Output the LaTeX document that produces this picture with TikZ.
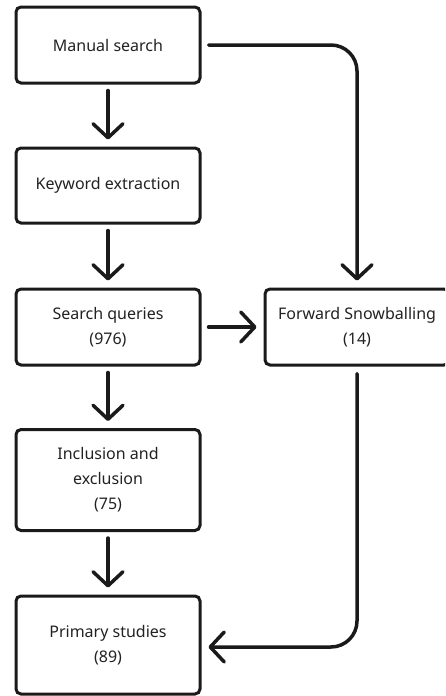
\documentclass[tikz,border=0pt]{standalone}
\usepackage{fontspec}
\setmainfont{Noto Sans}
\usetikzlibrary{arrows.meta}
\definecolor{ink}{HTML}{1A1A1A}
\definecolor{txt}{HTML}{222222}
\tikzset{
  box/.style={draw=ink, line width=3pt, rounded corners=5pt, minimum width=184pt,
    text=txt, align=center, font=\fontsize{16}{25}\selectfont, inner sep=0pt},
  conn/.style={draw=ink, line width=3.5pt, line cap=round, line join=round,
    -{Straight Barb[length=14pt,width=30pt,line cap=round,line join=round]}}
}
\begin{document}
\begin{tikzpicture}[x=1pt,y=-1pt]
\useasboundingbox (0,0) rectangle (445,696);
\clip (0,0) rectangle (445,696);
\node[box, minimum height=76pt] (m) at (108,45) {Manual search};
\node[box, minimum height=75pt] (k) at (108,185.5) {Keyword extraction};
\node[box, minimum height=76pt] (s) at (108,327) {Search queries\\(976)};
\node[box, minimum height=101pt] (i) at (108,480) {Inclusion and\\exclusion\\(75)};
\node[box, minimum height=98pt] (p) at (108,645) {Primary studies\\(\textbf{89})};
\node[box, minimum height=76pt] (f) at (357,327) {Forward Snowballing\\(14)};
\draw[conn] ([yshift=-6pt]m.south) -- ([yshift=7pt]k.north);
\draw[conn] ([yshift=-6pt]k.south) -- ([yshift=7pt]s.north);
\draw[conn] ([yshift=-6pt]s.south) -- ([yshift=7pt]i.north);
\draw[conn] ([yshift=-6pt]i.south) -- ([yshift=7pt]p.north);
\draw[conn] ([xshift=7pt]s.east) -- ([xshift=-7pt]f.west);
\draw[conn, rounded corners=26pt] ([xshift=7pt]m.east) -| ([yshift=7pt]f.north);
\draw[conn, rounded corners=26pt] ([yshift=-7pt]f.south) |- ([xshift=7pt,yshift=-2pt]p.east);
\end{tikzpicture}
\end{document}
